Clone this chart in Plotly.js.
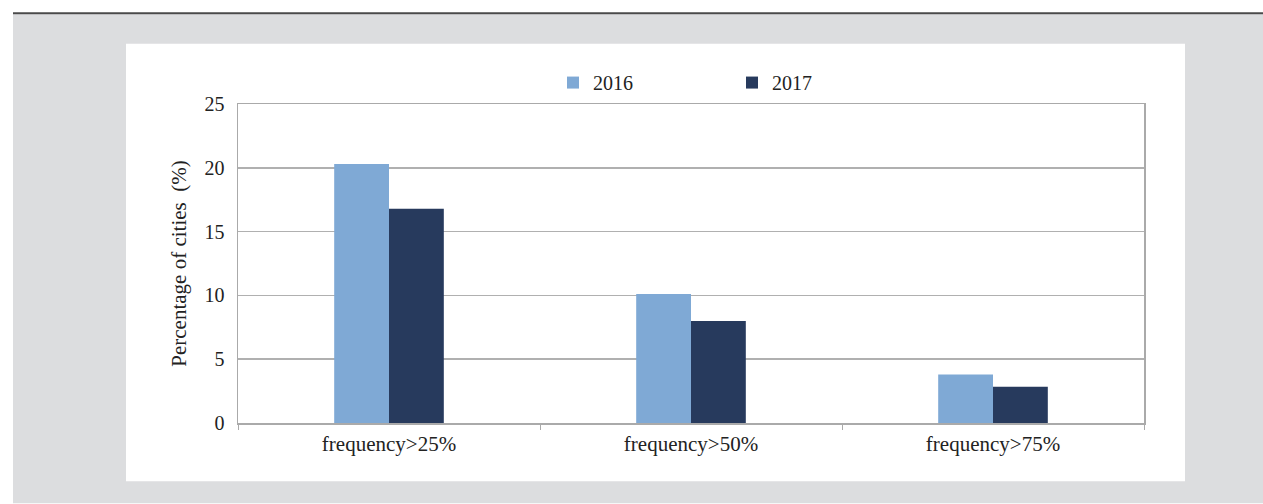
<!DOCTYPE html>
<html><head><meta charset="utf-8">
<script src="https://cdn.plot.ly/plotly-3.0.1.min.js"></script>
<style>html,body{margin:0;padding:0;background:#fff;}#chart{width:1263px;height:504px;}</style>
</head><body><div id="chart"></div>
<script>
var categories = ["frequency>25%", "frequency>50%", "frequency>75%"];
var series2016 = [20.3, 10.1, 3.8];
var series2017 = [16.8, 8.0, 2.85];
var seriesNames = ["2016", "2017"];
var yTicks = [0, 5, 10, 15, 20, 25];

var W = 1263, H = 504;
var L = 238, R = 1144, T = 103.5, B = 423.5;
function px(x){ return (x - L) / (R - L); }
function py(y){ return (B - y) / (B - T); }

var FAM = "Liberation Serif";
var font20 = {family: FAM, size: 20, color: "#222"};
var font21 = {family: FAM, size: 21, color: "#222"};

var traces = [
  {type: "bar", name: seriesNames[0], x: categories, y: series2016, marker: {color: "#7fa9d5"}},
  {type: "bar", name: seriesNames[1], x: categories, y: series2017, marker: {color: "#273a5d"}}
];

var layout = {
  width: W, height: H,
  margin: {l: L, r: W - R, t: T, b: H - B, pad: 0},
  paper_bgcolor: "#ffffff",
  plot_bgcolor: "#ffffff",
  font: font20,
  barmode: "group",
  bargap: 0.637,
  bargroupgap: 0,
  showlegend: true,
  legend: {orientation: "h", x: px(553), y: py(82), xanchor: "left", yanchor: "middle",
           entrywidth: 134, entrywidthmode: "pixels", font: font20, bgcolor: "rgba(0,0,0,0)",
           traceorder: "normal"},
  xaxis: {
    type: "category", showgrid: false, showline: true, linecolor: "#aaaaaa", linewidth: 1.5,
    mirror: true, ticks: "outside", tickson: "boundaries", ticklen: 5, tickcolor: "#aaaaaa",
    tickfont: font21, ticklabelstandoff: 1, fixedrange: true
  },
  yaxis: {
    range: [0, 25], tickvals: yTicks, showgrid: true, gridcolor: "#b0b0b0", gridwidth: 1.5,
    showline: true, linecolor: "#aaaaaa", linewidth: 1.5, mirror: true, ticks: "",
    tickfont: font20, ticklabelstandoff: 8, zeroline: false, fixedrange: true,
    title: {text: "Percentage of cities  (%)", font: font21, standoff: 12}
  },
  shapes: [
    {type: "rect", xref: "paper", yref: "paper", layer: "below",
     x0: px(13), x1: px(1263), y0: py(504), y1: py(13.5), fillcolor: "#dcdddf", line: {width: 0}},
    {type: "line", xref: "paper", yref: "paper", layer: "below",
     x0: px(13), x1: px(1263), y0: py(12.5), y1: py(12.5), line: {color: "#4a4a4a", width: 2}},
    {type: "rect", xref: "paper", yref: "paper", layer: "below",
     x0: px(126), x1: px(1185), y0: py(482), y1: py(43), fillcolor: "#ffffff", line: {width: 0}}
  ]
};

Plotly.newPlot("chart", traces, layout, {displayModeBar: false, staticPlot: true});
</script></body></html>
